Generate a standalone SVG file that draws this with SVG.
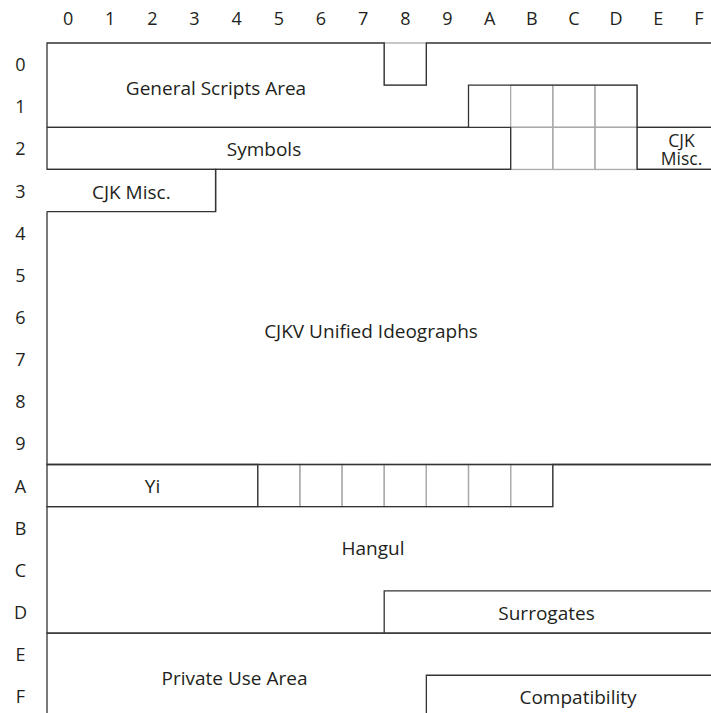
<svg xmlns="http://www.w3.org/2000/svg" width="711" height="713" viewBox="0 0 711 713">
<style>
text{font-family:"Open Sans","Noto Sans","Liberation Sans",sans-serif;font-size:19px;fill:#231f20;text-anchor:middle}
.hdr{font-size:18px}
.small{font-size:17.5px}
.dark{fill:none;stroke:#333;stroke-width:1.3}
.cell{fill:none;stroke:#ababab;stroke-width:1.3}
</style>
<rect width="711" height="713" fill="#fff"/>
<g id="column-headers">
<text class="hdr" x="68.1" y="25">0</text><text class="hdr" x="110.2" y="25">1</text><text class="hdr" x="152.4" y="25">2</text><text class="hdr" x="194.5" y="25">3</text><text class="hdr" x="236.7" y="25">4</text><text class="hdr" x="278.8" y="25">5</text><text class="hdr" x="321" y="25">6</text><text class="hdr" x="363.1" y="25">7</text><text class="hdr" x="405.3" y="25">8</text><text class="hdr" x="447.4" y="25">9</text><text class="hdr" x="489.6" y="25">A</text><text class="hdr" x="531.7" y="25">B</text><text class="hdr" x="573.9" y="25">C</text><text class="hdr" x="616" y="25">D</text><text class="hdr" x="658.2" y="25">E</text><text class="hdr" x="699" y="25">F</text>
</g>
<g id="row-headers">
<text class="hdr" x="20.5" y="71">0</text><text class="hdr" x="20.5" y="113.2">1</text><text class="hdr" x="20.5" y="155.3">2</text><text class="hdr" x="20.5" y="197.5">3</text><text class="hdr" x="20.5" y="239.6">4</text><text class="hdr" x="20.5" y="281.8">5</text><text class="hdr" x="20.5" y="323.9">6</text><text class="hdr" x="20.5" y="366.1">7</text><text class="hdr" x="20.5" y="408.2">8</text><text class="hdr" x="20.5" y="450.4">9</text><text class="hdr" x="20.5" y="492.5">A</text><text class="hdr" x="20.5" y="534.7">B</text><text class="hdr" x="20.5" y="576.8">C</text><text class="hdr" x="20.5" y="619">D</text><text class="hdr" x="20.5" y="661.1">E</text><text class="hdr" x="20.5" y="703.3">F</text>
</g>
<g id="unassigned-cells">
<rect class="cell" x="384.2" y="43" width="42.15" height="42.15"/>
<rect class="cell" x="510.65" y="85.15" width="42.15" height="42.15"/>
<rect class="cell" x="552.8" y="85.15" width="42.15" height="42.15"/>
<rect class="cell" x="594.95" y="85.15" width="42.15" height="42.15"/>
<rect class="cell" x="510.65" y="127.3" width="42.15" height="42.15"/>
<rect class="cell" x="552.8" y="127.3" width="42.15" height="42.15"/>
<rect class="cell" x="594.95" y="127.3" width="42.15" height="42.15"/>
<rect class="cell" x="257.75" y="464.5" width="42.15" height="42.15"/>
<rect class="cell" x="299.9" y="464.5" width="42.15" height="42.15"/>
<rect class="cell" x="342.05" y="464.5" width="42.15" height="42.15"/>
<rect class="cell" x="384.2" y="464.5" width="42.15" height="42.15"/>
<rect class="cell" x="426.35" y="464.5" width="42.15" height="42.15"/>
<rect class="cell" x="468.5" y="464.5" width="42.15" height="42.15"/>
<rect class="cell" x="510.65" y="464.5" width="42.15" height="42.15"/>
</g>
<g id="general-scripts">
<path class="dark" d="M47,127.3 V43 H384.2 V85.15 H426.35 V43 H712 M47,127.3 H468.5 V85.15 H637.1 V127.3 H712"/>
<text x="216" y="95">General Scripts Area</text>
</g>
<g id="symbols">
<path class="dark" d="M47,127.3 H510.65 V169.45 H47 Z"/>
<text x="264" y="156">Symbols</text>
</g>
<g id="cjk-misc-2">
<path class="dark" d="M712,127.3 H637.1 V169.45 H712"/>
<text class="small"><tspan x="681.5" y="147">CJK</tspan><tspan x="681.5" y="165">Misc.</tspan></text>
</g>
<g id="cjk-misc-3">
<path class="dark" d="M47,169.45 H215.6 V211.6 H47"/>
<text x="131.3" y="199">CJK Misc.</text>
</g>
<g id="cjkv">
<path class="dark" d="M215.6,211.6 V169.45 H510.65 M637.1,169.45 H712 M47,211.6 V464.5 H712"/>
<text x="371" y="338">CJKV Unified Ideographs</text>
</g>
<g id="yi">
<path class="dark" d="M47,464.5 H257.75 V506.65 H47 Z"/>
<text x="152.5" y="493">Yi</text>
</g>
<g id="hangul">
<path class="dark" d="M712,464.5 H552.8 V506.65 H47 V633.1 H712"/>
<text x="373" y="554.5">Hangul</text>
</g>
<g id="surrogates">
<path class="dark" d="M384.2,633.1 V590.95 H712"/>
<text x="546.5" y="620">Surrogates</text>
</g>
<g id="private-use">
<path class="dark" d="M47,714 V633.1 H712"/>
<text x="234.5" y="685">Private Use Area</text>
</g>
<g id="compatibility">
<path class="dark" d="M426.35,714 V675.25 H712"/>
<text x="578" y="704">Compatibility</text>
</g>
<g id="connectors"/>
</svg>
